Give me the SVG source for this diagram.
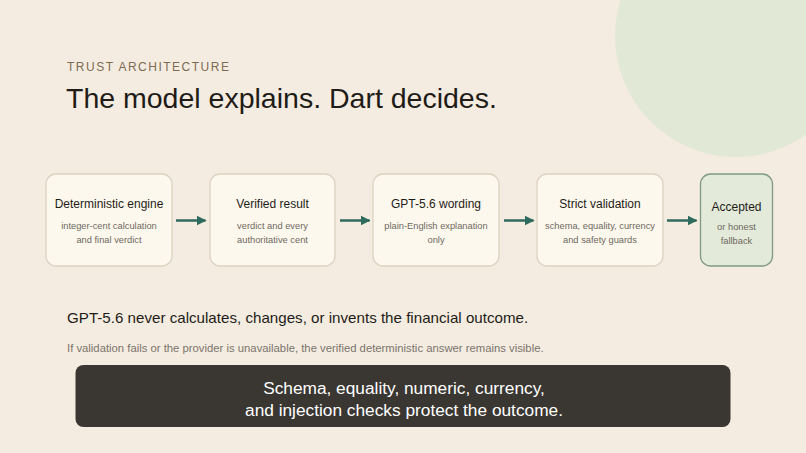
<svg xmlns="http://www.w3.org/2000/svg" width="806" height="453" viewBox="0 0 806 453">
<defs>
<marker id="ah" viewBox="0 0 10 10" refX="9" refY="5" markerWidth="4" markerHeight="4" orient="auto" markerUnits="strokeWidth">
<path d="M0,0 L10,5 L0,10 Z" fill="#2e6a5d"/>
</marker>
<style>
.t{font-family:"Liberation Sans",Arial,sans-serif}
.node{fill:#fdf8ee;stroke:#dcd2c1;stroke-width:1.3}
.nt{font-size:12px;fill:#1f1c18;text-anchor:middle}
.ns{font-size:9.3px;fill:#6e6860;text-anchor:middle}
.conn{stroke:#2e6a5d;stroke-width:2.5;fill:none}
</style>
</defs>
<rect width="806" height="453" fill="#f4ece0"/>
<circle cx="736" cy="36" r="121" fill="#e2e8d6"/>
<text class="t" x="67" y="71" font-size="12" letter-spacing="1.5" fill="#7d6b52">TRUST ARCHITECTURE</text>
<text class="t" x="66" y="108" font-size="28.5" fill="#1f1c18">The model explains. Dart decides.</text>

<g id="n1">
<rect class="node" x="46" y="174" width="126" height="92" rx="10"/>
<text class="t nt" x="109" y="208">Deterministic engine</text>
<text class="t ns" x="109" y="229">integer-cent calculation</text>
<text class="t ns" x="109" y="243">and final verdict</text>
</g>
<g id="n2">
<rect class="node" x="210" y="174" width="125" height="92" rx="10"/>
<text class="t nt" x="272.5" y="208">Verified result</text>
<text class="t ns" x="272.5" y="229">verdict and every</text>
<text class="t ns" x="272.5" y="243">authoritative cent</text>
</g>
<g id="n3">
<rect class="node" x="373" y="174" width="126" height="92" rx="10"/>
<text class="t nt" x="436" y="208">GPT-5.6 wording</text>
<text class="t ns" x="436" y="229">plain-English explanation</text>
<text class="t ns" x="436" y="243">only</text>
</g>
<g id="n4">
<rect class="node" x="537" y="174" width="126" height="92" rx="10"/>
<text class="t nt" x="600" y="208">Strict validation</text>
<text class="t ns" x="600" y="229">schema, equality, currency</text>
<text class="t ns" x="600" y="243">and safety guards</text>
</g>
<g id="n5">
<rect x="700.5" y="174" width="72" height="92" rx="10" fill="#e3ead9" stroke="#7f9a82" stroke-width="1.3"/>
<text class="t" x="736.5" y="211" font-size="12" fill="#1f1c18" text-anchor="middle">Accepted</text>
<text class="t" x="736.5" y="230" font-size="9.3" fill="#6e6860" text-anchor="middle">or honest</text>
<text class="t" x="736.5" y="243.5" font-size="9.3" fill="#6e6860" text-anchor="middle">fallback</text>
</g>

<g id="connectors">
<line class="conn" x1="176" y1="220.5" x2="205.5" y2="220.5" marker-end="url(#ah)"/>
<line class="conn" x1="340" y1="220.5" x2="369.5" y2="220.5" marker-end="url(#ah)"/>
<line class="conn" x1="504" y1="220.5" x2="533.5" y2="220.5" marker-end="url(#ah)"/>
<line class="conn" x1="667" y1="220.5" x2="696.5" y2="220.5" marker-end="url(#ah)"/>
</g>

<text class="t" x="67" y="323" font-size="15.15" fill="#1f1c18">GPT-5.6 never calculates, changes, or invents the financial outcome.</text>
<text class="t" x="67" y="352" font-size="11.3" fill="#7a746c">If validation fails or the provider is unavailable, the verified deterministic answer remains visible.</text>

<g id="banner">
<rect x="75.5" y="365" width="655" height="62" rx="8" fill="#3a3733"/>
<text class="t" x="404" y="394" font-size="17.3" fill="#ffffff" text-anchor="middle">Schema, equality, numeric, currency,</text>
<text class="t" x="404" y="416" font-size="17.3" fill="#ffffff" text-anchor="middle">and injection checks protect the outcome.</text>
</g>
</svg>
